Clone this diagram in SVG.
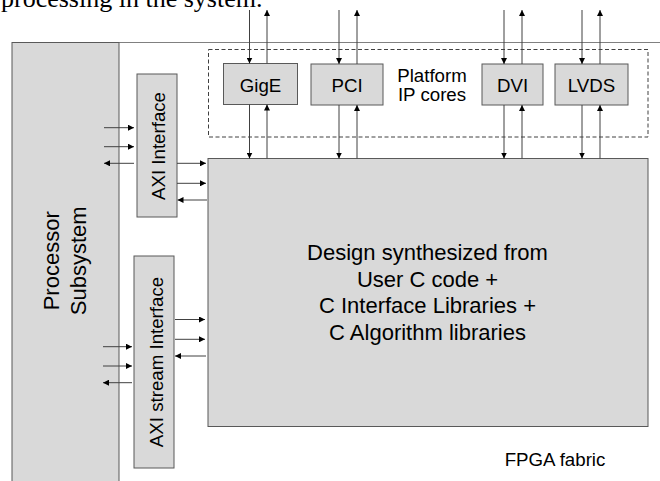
<svg xmlns="http://www.w3.org/2000/svg" width="660" height="481" viewBox="0 0 660 481">
  <defs>
    <marker id="ah" viewBox="0 0 6 6" refX="6" refY="3" markerWidth="6" markerHeight="6" markerUnits="userSpaceOnUse" orient="auto">
      <path d="M0,0 L6,3 L0,6 z" fill="#000"/>
    </marker>
    <style>
      .box { fill: #d9d9d9; stroke: #595959; stroke-width: 1; }
      .frame { fill: none; stroke: #808080; stroke-width: 1.2; }
      .dash { fill: none; stroke: #404040; stroke-width: 1; stroke-dasharray: 4 2.5; }
      .lbl { font-family: "Liberation Sans", Arial, sans-serif; fill: #000; text-anchor: middle; }
      .s { font-size: 18.7px; }
      .l { font-size: 22px; }
      .cap { font-family: "Liberation Serif", "Times New Roman", serif; font-size: 26px; fill: #000; }
      .conn line { stroke: #404040; stroke-width: 1; marker-end: url(#ah); }
    </style>
  </defs>
  <rect width="660" height="481" fill="#fff"/>

  <!-- caption line from the surrounding page -->
  <text class="cap" x="1" y="7">processing in the system.</text>

  <!-- FPGA fabric boundary -->
  <g id="fpga-fabric">
    <line class="frame" x1="119" y1="42.5" x2="660" y2="42.5"/>
    <text class="lbl s" x="555" y="466">FPGA fabric</text>
  </g>

  <!-- Processor subsystem -->
  <g id="processor">
    <rect class="box" x="12" y="42.5" width="107" height="450" stroke="#808080"/>
    <g transform="translate(0,260.8) rotate(-90)">
      <text class="lbl l" x="0" y="59.3">Processor</text>
      <text class="lbl l" x="0" y="85.8">Subsystem</text>
    </g>
  </g>

  <!-- Platform IP cores region -->
  <g id="platform-ip">
    <rect class="dash" x="208.5" y="49.5" width="439.5" height="87.5"/>
    <text class="lbl s" x="432" y="81.5">Platform</text>
    <text class="lbl s" x="432" y="100.5">IP cores</text>
  </g>

  <g id="gige">
    <rect class="box" x="223.5" y="63.5" width="74" height="41"/>
    <text class="lbl s" x="260.5" y="92">GigE</text>
  </g>
  <g id="pci">
    <rect class="box" x="311" y="64" width="72" height="41"/>
    <text class="lbl s" x="347" y="92">PCI</text>
  </g>
  <g id="dvi">
    <rect class="box" x="482" y="64" width="61" height="41"/>
    <text class="lbl s" x="512.5" y="92">DVI</text>
  </g>
  <g id="lvds">
    <rect class="box" x="555" y="64" width="73" height="41"/>
    <text class="lbl s" x="591.5" y="92">LVDS</text>
  </g>

  <!-- AXI interfaces -->
  <g id="axi-interface">
    <rect class="box" x="137" y="74" width="40" height="143"/>
    <text class="lbl s" transform="translate(165,146) rotate(-90)" x="0" y="0">AXI Interface</text>
  </g>
  <g id="axi-stream">
    <rect class="box" x="134" y="256" width="40" height="212"/>
    <text class="lbl s" transform="translate(162.7,362) rotate(-90)" x="0" y="0">AXI stream Interface</text>
  </g>

  <!-- Synthesized design -->
  <g id="design">
    <rect class="box" x="208" y="158.5" width="440" height="268"/>
    <text class="lbl l" x="427.5" y="260">Design synthesized from</text>
    <text class="lbl l" x="427.5" y="286.5">User C code +</text>
    <text class="lbl l" x="427.5" y="313">C Interface Libraries +</text>
    <text class="lbl l" x="427.5" y="339.5">C Algorithm libraries</text>
  </g>

  <g id="connectors" class="conn">
    <!-- external pins of IP cores -->
    <line x1="249.5" y1="10" x2="249.5" y2="63.5"/>
    <line x1="267" y1="63.5" x2="267" y2="10"/>
    <line x1="339" y1="10" x2="339" y2="64"/>
    <line x1="357" y1="64" x2="357" y2="10"/>
    <line x1="504" y1="10" x2="504" y2="64"/>
    <line x1="522" y1="64" x2="522" y2="10"/>
    <line x1="582" y1="10" x2="582" y2="64"/>
    <line x1="600" y1="64" x2="600" y2="10"/>
    <!-- IP cores to design -->
    <line x1="249.5" y1="104.5" x2="249.5" y2="158.5"/>
    <line x1="267" y1="158.5" x2="267" y2="104.5"/>
    <line x1="339" y1="105" x2="339" y2="158.5"/>
    <line x1="357" y1="158.5" x2="357" y2="105"/>
    <line x1="504" y1="105" x2="504" y2="158.5"/>
    <line x1="522" y1="158.5" x2="522" y2="105"/>
    <line x1="582" y1="105" x2="582" y2="158.5"/>
    <line x1="600" y1="158.5" x2="600" y2="105"/>
    <!-- processor to AXI interface -->
    <line x1="104" y1="127.7" x2="134" y2="127.7"/>
    <line x1="104" y1="146.7" x2="134" y2="146.7"/>
    <line x1="134" y1="163.3" x2="104" y2="163.3"/>
    <!-- AXI interface to design -->
    <line x1="177" y1="163.3" x2="206" y2="163.3"/>
    <line x1="177" y1="183.3" x2="206" y2="183.3"/>
    <line x1="207" y1="200" x2="177.5" y2="200"/>
    <!-- processor to AXI stream -->
    <line x1="103" y1="346.7" x2="132" y2="346.7"/>
    <line x1="103" y1="366" x2="132" y2="366"/>
    <line x1="132" y1="382.7" x2="103" y2="382.7"/>
    <!-- AXI stream to design -->
    <line x1="175" y1="319.5" x2="205" y2="319.5"/>
    <line x1="175" y1="339.3" x2="205" y2="339.3"/>
    <line x1="206" y1="356" x2="175" y2="356"/>
  </g>
</svg>
